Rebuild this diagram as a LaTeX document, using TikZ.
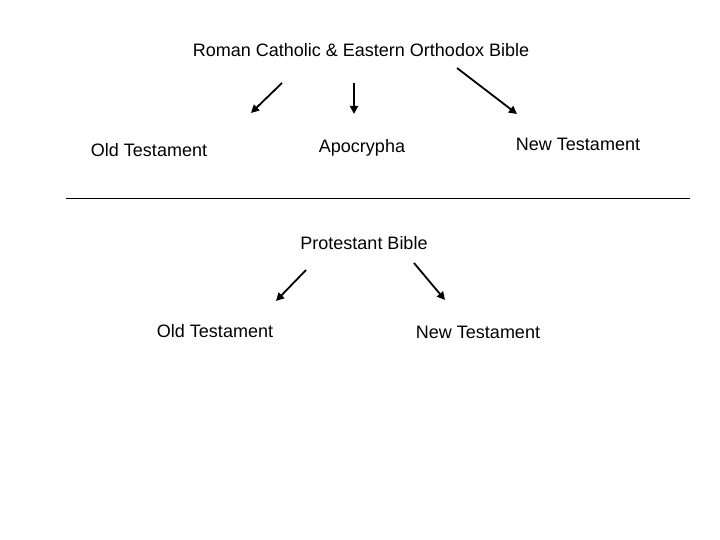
\documentclass[tikz,border=0pt]{standalone}
\usepackage{fontspec}
\setmainfont{Liberation Sans}
\usetikzlibrary{arrows.meta}
\tikzset{
	lbl/.style={font=\fontsize{18}{21}\selectfont, inner sep=0pt},
	arr/.style={line width=1.8pt, -{Triangle[length=8pt,width=8pt]}}
}

\begin{document}
\begin{tikzpicture}[x=1pt, y=-1pt]
			%%%%% START %%%%%
			\useasboundingbox (0, 0) rectangle (720, 540);
			
			\node[lbl] (rcbible) at (361, 50) {Roman Catholic \& Eastern Orthodox Bible};
			
			\node[lbl] (rcold) at (149, 150) {Old Testament};
			\node[lbl] (rcapo) at (362, 148) {Apocrypha};
			\node[lbl] (rcnew) at (578, 144) {New Testament};
			
			\coordinate (a1s) at (282, 83);
			\coordinate (a1e) at (251, 113);
			\coordinate (a2s) at (354, 83);
			\coordinate (a2e) at (354, 114);
			\coordinate (a3s) at (457, 68);
			\coordinate (a3e) at (517, 114);
			\draw[arr] (a1s) -- (a1e);
			\draw[arr] (a2s) -- (a2e);
			\draw[arr] (a3s) -- (a3e);
			
			\coordinate (sepl) at (66, 198);
			\coordinate (sepr) at (690, 198);
			\draw[line width=0.9pt] (sepl) -- (sepr);
			
			\node[lbl] (prbible) at (364, 243) {Protestant Bible};
			
			\node[lbl] (prold) at (215, 331) {Old Testament};
			\node[lbl] (prnew) at (478, 332) {New Testament};
			
			\coordinate (b1s) at (306, 270);
			\coordinate (b1e) at (276, 301);
			\coordinate (b2s) at (414, 263);
			\coordinate (b2e) at (445, 300);
			\draw[arr] (b1s) -- (b1e);
			\draw[arr] (b2s) -- (b2e);
			
			%%%%% END %%%%%
		\end{tikzpicture}
\end{document}
